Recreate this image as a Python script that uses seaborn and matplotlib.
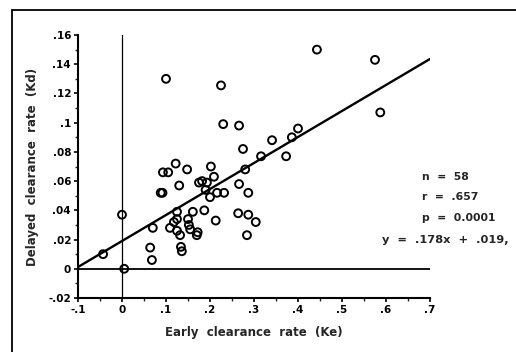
import matplotlib
matplotlib.use("Agg")
import matplotlib.pyplot as plt
from matplotlib.lines import Line2D
import numpy as np
import pandas as pd
import seaborn as sns

# Early clearance rate (Ke) values
ke = [0.10, 0.225, 0.23, 0.266, 0.275, 0.443, 0.575, 0.587, 0.40, 0.386,
      0.341, 0.373, 0.316, 0.202, 0.28, 0.209, 0.182, 0.193, 0.19, 0.20,
      0.216, 0.232, 0.266, 0.287, 0.187, 0.213, 0.264, 0.287, 0.304, 0.284,
      -0.043, 0.0, 0.005, 0.07, 0.064, 0.068, 0.088, 0.092, 0.093, 0.105,
      0.122, 0.13, 0.148, 0.109, 0.118, 0.125, 0.125, 0.125, 0.132, 0.134,
      0.136, 0.15, 0.152, 0.155, 0.161, 0.17, 0.172, 0.175]
# Delayed clearance rate (Kd) values
kd = [0.130, 0.1255, 0.099, 0.098, 0.082, 0.150, 0.143, 0.107, 0.096, 0.090,
      0.088, 0.077, 0.077, 0.070, 0.068, 0.063, 0.060, 0.059, 0.054, 0.049,
      0.052, 0.052, 0.058, 0.052, 0.040, 0.033, 0.038, 0.037, 0.032, 0.023,
      0.010, 0.037, 0.0, 0.028, 0.0145, 0.006, 0.052, 0.052, 0.066, 0.066,
      0.072, 0.057, 0.068, 0.028, 0.032, 0.039, 0.034, 0.026, 0.023, 0.015,
      0.012, 0.034, 0.030, 0.027, 0.039, 0.023, 0.025, 0.059]

fit_slope = 0.178
fit_intercept = 0.019
fit_x_range = [-0.1, 0.7]

x_ticks = [-0.1, 0, 0.1, 0.2, 0.3, 0.4, 0.5, 0.6, 0.7]
x_tick_labels = ["-.1", "0", ".1", ".2", ".3", ".4", ".5", ".6", ".7"]
y_ticks = [-0.02, 0, 0.02, 0.04, 0.06, 0.08, 0.10, 0.12, 0.14, 0.16]
y_tick_labels = ["-.02", "0", ".02", ".04", ".06", ".08", ".1", ".12", ".14", ".16"]

stats_lines = ["n  =  58", "r  =  .657", "p  =  0.0001"]
equation = "y  =  .178x  +  .019,"

sns.set_style("ticks")
plt.rcParams["font.family"] = ["DejaVu Sans"]
plt.rcParams["font.weight"] = "bold"

fig = plt.figure(figsize=(5.16, 3.52), dpi=100)
ax = fig.add_axes([78/516, 1-298/352, (430-78)/516, (298-35)/352])

df = pd.DataFrame({"Ke": ke, "Kd": kd})
fit_df = pd.DataFrame({"x": fit_x_range,
                       "y": [fit_slope * v + fit_intercept for v in fit_x_range]})

ax.axhline(0, color="black", lw=1.3, zorder=1)
ax.axvline(0, color="black", lw=0.9, zorder=1)

sns.lineplot(data=fit_df, x="x", y="y", color="black", lw=1.7, ax=ax, zorder=2)
sns.scatterplot(data=df, x="Ke", y="Kd", marker="o", s=32,
                facecolors="none", edgecolor="black", linewidth=1.4,
                ax=ax, zorder=3)

ax.set_xlim(-0.1, 0.7)
ax.set_ylim(-0.02, 0.16)
ax.set_xticks(x_ticks)
ax.set_xticklabels(x_tick_labels, fontsize=7.5, fontweight="bold")
ax.set_yticks(y_ticks)
ax.set_yticklabels(y_tick_labels, fontsize=7.5, fontweight="bold")
ax.set_xticks(np.arange(-0.1, 0.71, 0.05), minor=True)
ax.set_yticks(np.arange(-0.02, 0.161, 0.01), minor=True)
ax.tick_params(axis="both", which="major", direction="out", length=3, width=1.2,
               pad=2, colors="black")
ax.tick_params(axis="both", which="minor", direction="out", length=2, width=1.0)

sns.despine(ax=ax)
for s in ["left", "bottom"]:
    ax.spines[s].set_linewidth(1.5)
    ax.spines[s].set_color("black")

ax.set_xlabel("Early  clearance  rate  (Ke)", fontsize=8.5, fontweight="bold", labelpad=8)
ax.set_ylabel("Delayed  clearance  rate  (Kd)", fontsize=8.5, fontweight="bold", labelpad=7)

for i, t in enumerate(stats_lines):
    ax.text(0.682, 0.0628 - i * 0.0140, t, fontsize=7.8, fontweight="bold",
            ha="left", va="center", clip_on=False)
ax.text(0.591, 0.020, equation, fontsize=8.2, fontweight="bold",
        ha="left", va="center", clip_on=False)

# outer frame
fig.add_artist(Line2D([12/516, 1.0], [1-10/352, 1-10/352], color="black", lw=1.3,
                      transform=fig.transFigure))
fig.add_artist(Line2D([12/516, 12/516], [0.0, 1-10/352], color="black", lw=1.3,
                      transform=fig.transFigure))

fig.savefig("out.png", dpi=100)
